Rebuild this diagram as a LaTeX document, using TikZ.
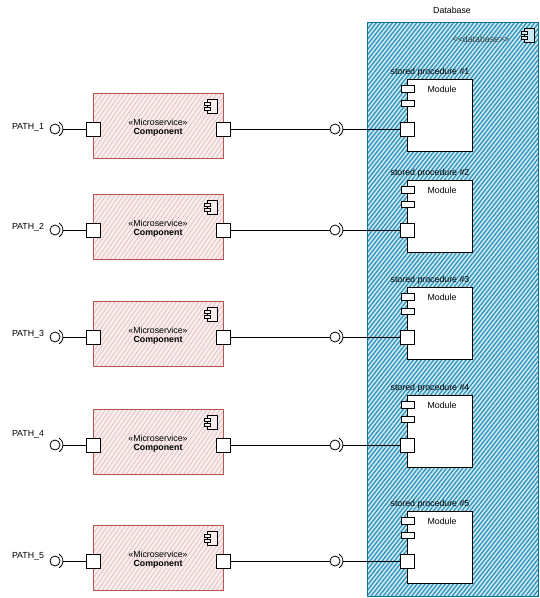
\documentclass[tikz,border=0pt]{standalone}
\usepackage{fontspec}
\setmainfont{Liberation Sans}
\usetikzlibrary{patterns.meta}
\definecolor{dbfill}{HTML}{CDE9F2}
\definecolor{dbhatch}{HTML}{2E93BC}
\definecolor{dbline}{HTML}{10739E}
\definecolor{msfill}{HTML}{F8ECEC}
\definecolor{mshatch}{HTML}{E0B6B5}
\definecolor{msline}{HTML}{B85450}
\definecolor{dbtext}{HTML}{444444}
\tikzset{
  txt/.style={font=\fontsize{8.8}{10}\selectfont, inner sep=0pt, outer sep=0pt},
  btxt/.style={font=\fontsize{8.8}{10}\selectfont\bfseries, inner sep=0pt, outer sep=0pt},
  port/.style={draw=black, fill=white, line width=0.8pt, minimum width=14pt, minimum height=14pt, inner sep=0pt, outer sep=0pt},
  smallport/.style={draw=black, fill=white, line width=0.8pt, minimum width=13pt, minimum height=6.5pt, inner sep=0pt, outer sep=0pt},
  msbox/.style={draw=msline, line width=0.8pt, preaction={fill=msfill}, pattern={Lines[angle=55,distance=3.6pt,line width=0.55pt]}, pattern color=mshatch, minimum width=130pt, minimum height=65pt, inner sep=0pt, outer sep=0pt},
  dbbox/.style={draw=dbline, line width=1pt, preaction={fill=dbfill}, pattern={Lines[angle=52,distance=3.2pt,line width=1.3pt]}, pattern color=dbhatch, minimum width=171pt, minimum height=574pt, inner sep=0pt, outer sep=0pt},
  modbox/.style={draw=black, fill=white, line width=0.8pt, minimum width=65pt, minimum height=72pt, inner sep=0pt, outer sep=0pt},
  ball/.style={circle, draw=black, line width=0.8pt, minimum size=10pt, inner sep=0pt, outer sep=0pt},
  wire/.style={draw=black, line width=0.8pt},
  icon/.style={draw=black, line width=0.7pt}
}
\newcommand\mycompicon[3]{% x y fill
  \draw[icon, fill=#3] (#1+3,#2) rectangle (#1+13,#2+14);
  \draw[icon, fill=#3] (#1,#2+3) rectangle (#1+6,#2+6);
  \draw[icon, fill=#3] (#1,#2+8) rectangle (#1+6,#2+11);
}
\begin{document}
\begin{tikzpicture}[x=1pt,y=-1pt]
\useasboundingbox (0,0) rectangle (540,598);
% database container
\node[dbbox] (db) at (452.5,309) {};
\node[txt] (dbtitle) at (452,10) {Database};
\node[txt, text=dbtext] (dbstereo) at (481,39) {<{}<database>{}>};
\mycompicon{521}{28}{dbfill}
\foreach \i/\r/\p in {1/129/127, 2/230/227, 3/337/334, 4/445/434, 5/561/556}{
  % microservice component
  \node[msbox] (ms\i) at (158,\r-3.5) {};
  \mycompicon{204}{\r-30}{msfill}
  \node[txt] (st\i) at (158,\r-7) {«Microservice»};
  \node[btxt] (cn\i) at (158,\r+3) {Component};
  % left interface
  \node[txt] (path\i) at (28,\p) {PATH\_\i};
  \node[ball] (lb\i) at (55,\r) {};
  \draw[wire] ([shift={(-58:8)}]lb\i.center) arc[start angle=-58,end angle=58,radius=8];
  \coordinate (ls\i) at ([xshift=8pt]lb\i.center);
  \node[port] (lp\i) at (93,\r) {};
  \draw[wire] (ls\i) -- (lp\i.west);
  \node[port] (rp\i) at (223.5,\r) {};
  % right interface
  \node[ball] (rb\i) at (335,\r) {};
  \draw[wire] ([shift={(-58:8)}]rb\i.center) arc[start angle=-58,end angle=58,radius=8];
  \coordinate (rs\i) at ([xshift=8pt]rb\i.center);
  % stored procedure module
  \node[modbox] (mod\i) at (439.5,\r-14) {};
  \node[txt] (mt\i) at (442,\r-40) {Module};
  \node[txt] (sp\i) at (430,\r-57) {stored procedure \#\i};
  \node[smallport] (sa\i) at (407.5,\r-40) {};
  \node[smallport] (sb\i) at (407.5,\r-25.5) {};
  \node[port] (mp\i) at (407,\r) {};
  \draw[wire] (rp\i.east) -- (rb\i.west);
  \draw[wire] (rs\i) -- (mp\i.west);
}
\end{tikzpicture}
\end{document}
